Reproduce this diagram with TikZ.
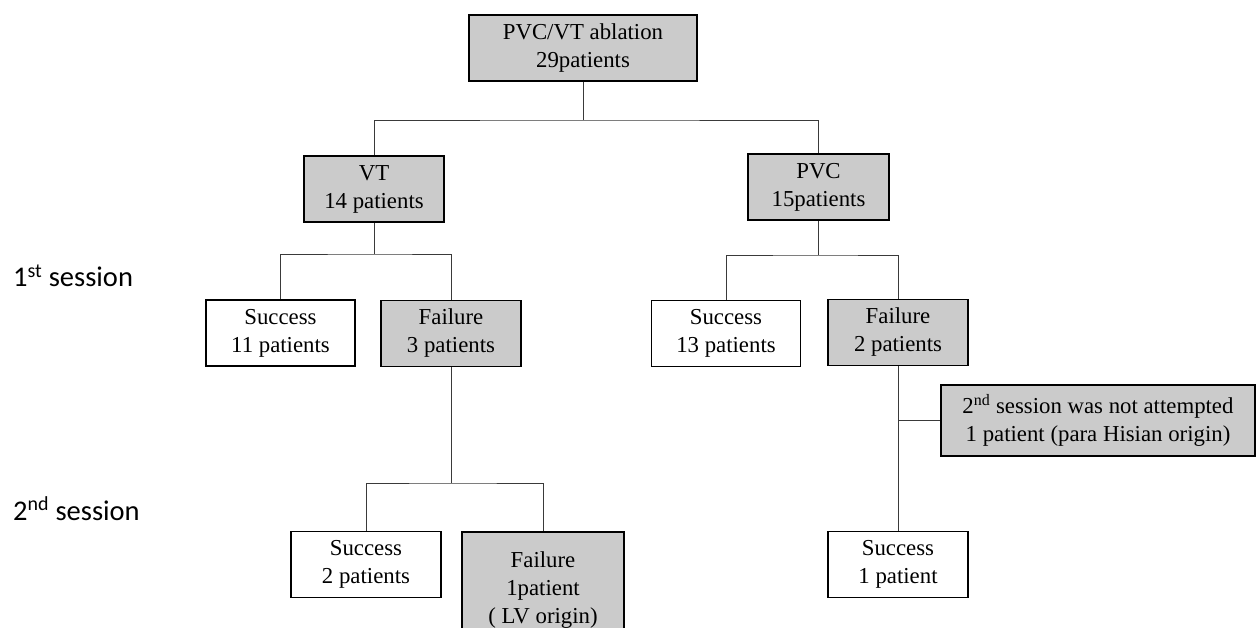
\documentclass[tikz,border=0pt]{standalone}
\usepackage{fontspec}
\setmainfont{Liberation Serif}
\newfontfamily\labelfont{Carlito}
\definecolor{boxgray}{HTML}{CBCBCB}
\definecolor{linegray}{HTML}{3A3A3A}
\begin{document}
\begin{tikzpicture}[x=1pt,y=-1pt,
  box/.style={draw=black, line width=1.6pt, align=center, inner sep=0pt,
    minimum height=66pt, font=\fontsize{22.8pt}{28pt}\selectfont},
  gbox/.style={box, fill=boxgray},
  wbox/.style={box, fill=white},
  conn/.style={draw=linegray, line width=0.9pt},
  lab/.style={font=\labelfont\fontsize{28.5pt}{33pt}\selectfont, inner sep=0pt, anchor=base west}]
\useasboundingbox (0,0) rectangle (1256,628);
\fill[white] (0,0) rectangle (1256,628);

% nodes
\node[gbox, minimum width=228pt] (top) at (583,48) {PVC/VT ablation\\29patients};
\node[gbox, minimum width=140pt] (VT) at (374,189) {VT\\14 patients};
\node[gbox, minimum width=141pt] (PVC) at (818.5,187) {PVC\\15patients};
\node[wbox, minimum width=149pt] (S11) at (280.5,333) {Success\\11 patients};
\node[gbox, minimum width=140pt] (F3) at (451,333.5) {Failure\\3 patients};
\node[wbox, minimum width=149pt] (S13) at (726,333.5) {Success\\13 patients};
\node[gbox, minimum width=140pt] (F2) at (898,332.5) {Failure\\2 patients};
\node[gbox, minimum width=314pt, minimum height=71pt] (NA) at (1098,420.5) {2\textsuperscript{nd} session was not attempted\\1 patient (para Hisian origin)};
\node[wbox, minimum width=150pt] (S2) at (366,564.5) {Success\\2 patients};
\node[gbox, minimum width=162pt, minimum height=116pt] (F1) at (543,590) {Failure\\1patient\\( LV origin)};
\node[wbox, minimum width=140pt] (S1) at (898,564.5) {Success\\1 patient};

% labels
\node[lab] (l1) at (13,287) {1\textsuperscript{st} session};
\node[lab] (l2) at (13,520) {2\textsuperscript{nd} session};

% junctions
\coordinate (j1) at (583,120);
\coordinate (j2) at (374,254);
\coordinate (j3) at (818.5,255);
\coordinate (j4) at (451,483);

% connectors
\draw[conn] (top.south) -- (j1);
\draw[conn] (VT.north) |- (j1) -| (PVC.north);
\draw[conn] (VT.south) -- (j2);
\draw[conn] (S11.north) |- (j2) -| (F3.north);
\draw[conn] (PVC.south) -- (j3);
\draw[conn] (S13.north) |- (j3) -| (F2.north);
\draw[conn] (F3.south) -- (j4);
\draw[conn] (S2.north) |- (j4) -| (F1.north);
\draw[conn] (F2.south) -- (S1.north);
\draw[conn] (NA.west) -- (NA.west -| F2.south);
\end{tikzpicture}
\end{document}
